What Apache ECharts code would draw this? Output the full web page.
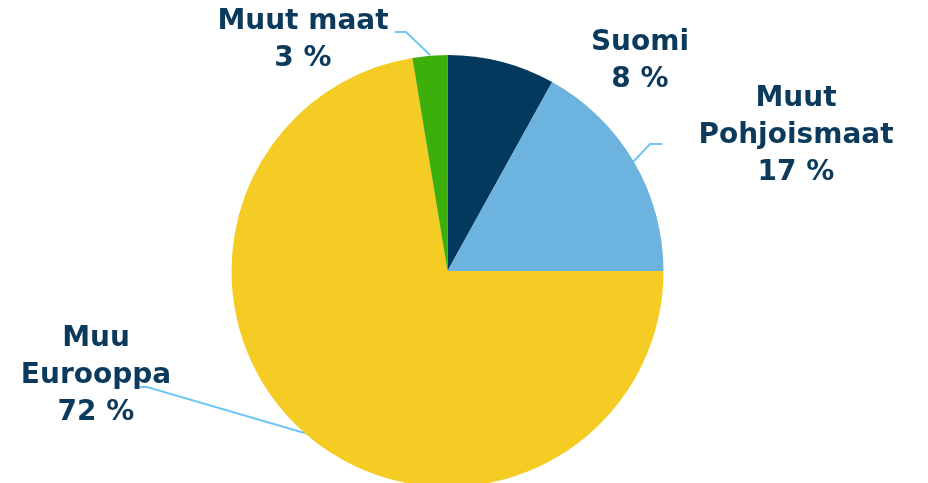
<!DOCTYPE html>
<html>
<head>
<meta charset="utf-8">
<script src="https://cdn.jsdelivr.net/npm/echarts@6/dist/echarts.min.js"></script>
<style>
html,body{margin:0;padding:0;background:#fff;}
#c{width:928px;height:483px;}
</style>
</head>
<body>
<div id="c"></div>
<script>
const categories = ['Suomi', 'Muut\nPohjoismaat', 'Muu\nEurooppa', 'Muut maat'];
const values = [8.05, 16.95, 72.4, 2.6];
const colors = ['#03395C', '#6DB3E0', '#F4CC23', '#3DAF0A'];

// label placement (style only): [x, y, leader line points]
const labelPlacement = [
  [640, 61, null],
  [796, 136, [[633, 162], [650, 144], [662, 144]]],
  [96, 376, [[308, 434], [147, 387], [140, 387]]],
  [303, 40, [[430, 55], [406, 32], [395, 32]]]
];

const chart = echarts.init(document.getElementById('c'));
chart.setOption({
  animation: false,
  backgroundColor: '#ffffff',
  series: [{
    type: 'pie',
    center: [447.5, 271],
    radius: 216,
    startAngle: 90,
    clockwise: true,
    avoidLabelOverlap: false,
    itemStyle: { borderWidth: 0 },
    label: {
      show: true,
      color: '#0B3A5C',
      fontFamily: 'DejaVu Sans',
      fontWeight: 'bold',
      fontSize: 28,
      lineHeight: 37,
      align: 'center',
      formatter: p => p.name + '\n' + Math.round(p.value) + ' %'
    },
    labelLine: {
      show: true,
      lineStyle: { color: '#72C6F5', width: 2 }
    },
    labelLayout: function (p) {
      const L = labelPlacement[p.dataIndex];
      const r = { x: L[0], y: L[1], align: 'center', verticalAlign: 'middle' };
      if (L[2]) r.labelLinePoints = L[2];
      return r;
    },
    data: categories.map((c, i) => ({
      name: c,
      value: values[i],
      itemStyle: { color: colors[i] },
      labelLine: { show: labelPlacement[i][2] !== null }
    }))
  }]
});
</script>
</body>
</html>
